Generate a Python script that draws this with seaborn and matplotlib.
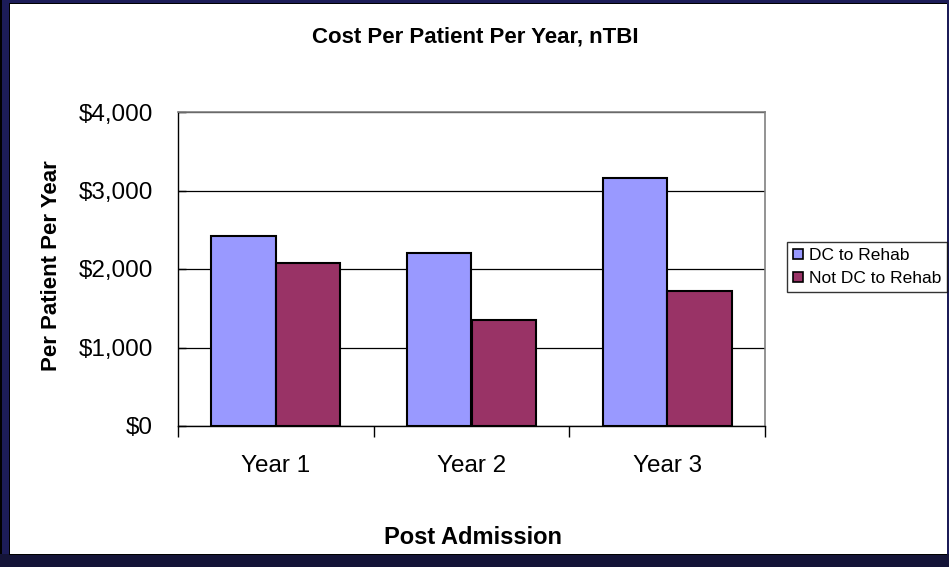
import matplotlib
matplotlib.use("Agg")
import matplotlib.pyplot as plt
import seaborn as sns
import pandas as pd
from matplotlib.patches import Rectangle
from matplotlib.lines import Line2D
from matplotlib.ticker import FuncFormatter, FixedLocator

# ---- data ----
categories = ["Year 1", "Year 2", "Year 3"]
series_names = ["DC to Rehab", "Not DC to Rehab"]
dc_to_rehab = [2420, 2205, 3165]
not_dc_to_rehab = [2075, 1350, 1715]
y_ticks = [0, 1000, 2000, 3000, 4000]
colors = ["#9999FF", "#993366"]

df = pd.DataFrame({
    "Year": categories * 2,
    "Group": [series_names[0]] * 3 + [series_names[1]] * 3,
    "Cost": dc_to_rehab + not_dc_to_rehab,
})

sns.set_theme(style="white")
plt.rcParams['font.family'] = ['Liberation Sans', 'DejaVu Sans']

W, H = 949, 567
fig = plt.figure(figsize=(W / 100, H / 100), dpi=100)
fig.patch.set_facecolor("#1c1c58")

def fx(px):
    return px / W

def fy(py):
    return 1 - py / H

# frame decoration (drawn below the axes)
fig.patches.append(Rectangle((0, 0), fx(2), 1, transform=fig.transFigure,
                             facecolor="#000000", edgecolor="none", zorder=-4))
fig.patches.append(Rectangle((0, 0), 1, fy(554), transform=fig.transFigure,
                             facecolor="#141438", edgecolor="none", zorder=-4))
fig.patches.append(Rectangle((fx(9), fy(555)), fx(947) - fx(9), fy(3) - fy(555),
                             transform=fig.transFigure, facecolor="#000000",
                             edgecolor="none", zorder=-3))
fig.patches.append(Rectangle((fx(10), fy(554)), fx(947) - fx(10), fy(4) - fy(554),
                             transform=fig.transFigure, facecolor="white",
                             edgecolor="none", zorder=-2))

ax = fig.add_axes([fx(178), fy(426), fx(765) - fx(178), fy(112) - fy(426)])
ax.set_facecolor("white")
ax.set_zorder(1)

sns.barplot(data=df, x="Year", y="Cost", hue="Group", palette=colors,
            hue_order=series_names, order=categories, width=0.66, gap=0,
            edgecolor="black", linewidth=1.5, saturation=1, ax=ax,
            legend=False, zorder=3)

ax.set_ylim(0, 4000)
ax.set_xlim(-0.5, 2.5)
ax.yaxis.set_major_locator(FixedLocator(y_ticks))
ax.yaxis.set_major_formatter(FuncFormatter(lambda v, p: f"${int(v):,}"))
ax.set_axisbelow(True)
ax.grid(axis="y", color="black", linewidth=0.9)
ax.grid(axis="x", visible=False)

for side in ["top", "right"]:
    ax.spines[side].set_color("#808080")
    ax.spines[side].set_linewidth(1.2)
for side in ["left", "bottom"]:
    ax.spines[side].set_color("#000000")
    ax.spines[side].set_linewidth(1.0)

ax.set_xlabel("")
ax.set_ylabel("")
ax.tick_params(axis="y", direction="in", length=6, width=1, color="black",
               labelsize=17.5, pad=18, left=True)
ax.tick_params(axis="x", which="major", length=0, labelsize=17.5, pad=21)
ax.set_xticks([-0.5, 0.5, 1.5, 2.5], minor=True)
ax.tick_params(axis="x", which="minor", direction="out", length=8, width=1,
               color="black", bottom=True)
for lbl in ax.get_xticklabels() + ax.get_yticklabels():
    lbl.set_color("black")

fig.text(fx(475), fy(37), "Cost Per Patient Per Year, nTBI", ha="center",
         va="center", fontsize=16, fontweight="bold", color="black", zorder=5)
fig.text(fx(473), fy(537), "Post Admission", ha="center", va="center",
         fontsize=17, fontweight="bold", color="black", zorder=5)
fig.text(fx(52), fy(266), "Per Patient Per Year", ha="center", va="center",
         rotation=90, fontsize=16, fontweight="bold", color="black", zorder=5)

handles = [Line2D([], [], marker="s", linestyle="none", markersize=6.5,
                  markerfacecolor=c, markeredgecolor="black", markeredgewidth=1.2)
           for c in colors]
leg = ax.legend(handles, series_names, loc="upper left",
                bbox_to_anchor=(fx(787), fy(242)), bbox_transform=fig.transFigure,
                frameon=True, fancybox=False, fontsize=12.5, handlelength=0.6,
                handletextpad=0.3, borderpad=0.35, labelspacing=0.45,
                borderaxespad=0)
leg.get_frame().set_edgecolor("black")
leg.get_frame().set_linewidth(1.0)
leg.get_frame().set_facecolor("white")
for t in leg.get_texts():
    t.set_color("black")

fig.savefig("out.png", dpi=100, facecolor=fig.get_facecolor())
